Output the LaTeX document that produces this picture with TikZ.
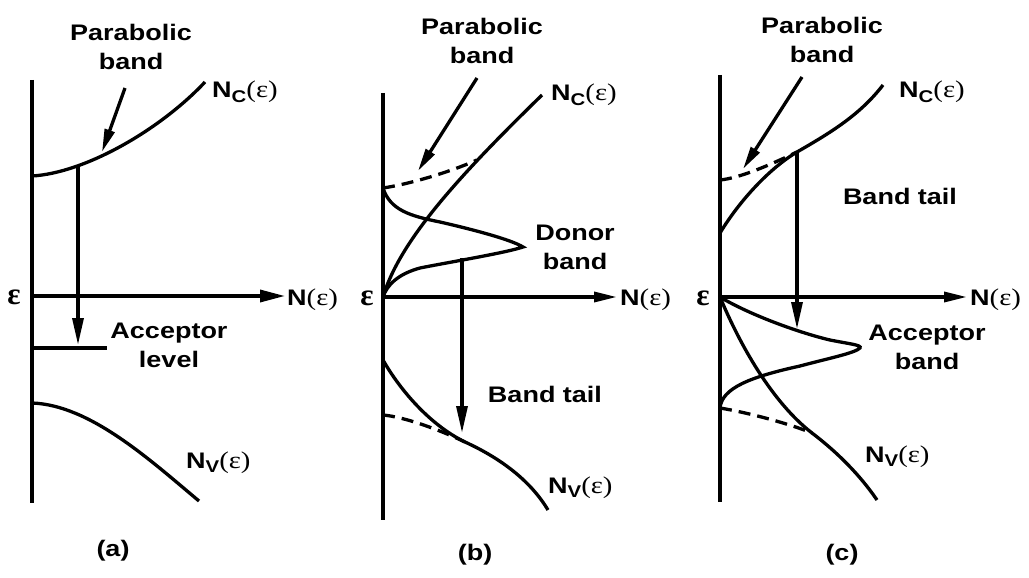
\documentclass[tikz,border=0pt]{standalone}
\usepackage{fontspec}
\setmainfont{Liberation Sans}
\newfontfamily\grk{Liberation Serif}
\usetikzlibrary{arrows.meta}
\newcommand{\wtx}[1]{\scalebox{1.2}[1]{\begin{tabular}{@{}c@{}}#1\end{tabular}}}
\newcommand{\grkp}{{\grk\mdseries\fontsize{24}{24}\selectfont(ε)}}
\newcommand{\Nsub}[1]{\scalebox{1.2}[1]{N\raisebox{-4.5pt}{\fontsize{17}{17}\selectfont #1}\grkp}}
\newcommand{\Neps}{\scalebox{1.2}[1]{N\grkp}}
\newcommand{\bigeps}{{\grk\bfseries\fontsize{31}{31}\selectfont ε}}
\tikzset{
  lbl/.style={inner sep=0pt, font=\fontsize{22.5}{29}\selectfont\bfseries},
  curve/.style={line width=3.3pt},
  dcurve/.style={line width=3.3pt, dash pattern=on 12pt off 7pt},
  axis/.style={line width=3.4pt},
  bigarr/.style={line width=3.4pt, -{Triangle[length=25pt,width=12pt]}},
  thinarr/.style={line width=3.4pt, -{Triangle[length=23pt,width=10pt]}},
  varr/.style={line width=3.3pt, -{Triangle[length=27pt,width=11pt]}},
  parr/.style={line width=3.3pt, -{Triangle[length=23pt,width=10pt]}},
}
\begin{document}
\begin{tikzpicture}[x=1pt,y=-1pt]
\fill[white] (0,0) rectangle (1029,578);
\useasboundingbox (0,0) rectangle (1029,578);

% ================= (a) =================
\coordinate (aTop) at (32,80);
\coordinate (aBot) at (32,503);
\coordinate (aO) at (32,296);
\coordinate (aX) at (285,296);
\coordinate (aC0) at (32,176);
\coordinate (aC1) at (205,82);
\coordinate (aV0) at (32,403);
\coordinate (aV1) at (199,501);
\coordinate (aArrS) at (78,167);
\coordinate (aArrE) at (78,345);
\coordinate (aLv0) at (32,348);
\coordinate (aLv1) at (107,348);
\coordinate (aPS) at (125,88);
\coordinate (aPE) at (102,152);

\draw[axis] (aTop) -- (aBot);
\draw[bigarr] (aO) -- (aX);
\draw[curve] (aC0) .. controls (85,173) and (160,130) .. (aC1);
\draw[curve] (aV0) .. controls (90,405) and (150,460) .. (aV1);
\draw[axis] (aLv0) -- (aLv1);
\draw[varr] (aArrS) -- (aArrE);
\draw[parr] (aPS) -- (aPE);

\node[lbl] (aPar) at (131,49) {\wtx{Parabolic\\band}};
\node[lbl, anchor=base west] (aNc) at (212,98) {\Nsub{C}};
\node[lbl, anchor=base west] (aNe) at (287,305) {\Neps};
\node[lbl] (aEps) at (14,297) {\bigeps};
\node[lbl] (aAcc) at (169,347) {\wtx{Acceptor\\level}};
\node[lbl, anchor=base west] (aNv) at (186,468) {\Nsub{V}};
\node[lbl] (aLab) at (113,551) {\wtx{(a)}};

% ================= (b) =================
\coordinate (bTop) at (383,93);
\coordinate (bBot) at (383,520);
\coordinate (bO) at (383,297);
\coordinate (bX) at (617,297);
\coordinate (bP0) at (383,188);
\coordinate (bM) at (477,160);
\coordinate (bC1) at (542,95);
\coordinate (bPk) at (523,247);
\coordinate (bV0) at (383,360);
\coordinate (bVm) at (465,442);
\coordinate (bV1) at (548,510);
\coordinate (bD0) at (383,415);
\coordinate (bArrS) at (462,258);
\coordinate (bArrE) at (462,433);
\coordinate (bPS) at (477,78);
\coordinate (bPE) at (418,171);

\draw[axis] (bTop) -- (bBot);
\draw[thinarr] (bO) -- (bX);
\draw[dcurve] (bP0) .. controls (410,184) and (450,172) .. (bM);
\draw[curve] (bO) .. controls (400,240) and (460,175) .. (bC1);
\draw[curve] (bP0) .. controls (390,210) and (410,216) .. (440,222)
   .. controls (475,230) and (512,240) .. (bPk)
   .. controls (505,253) and (450,262) .. (420,268)
   .. controls (398,274) and (387,285) .. (bO);
\draw[curve] (bV0) .. controls (400,390) and (430,425) .. (bVm)
   .. controls (500,458) and (530,480) .. (bV1);
\draw[dcurve] (bD0) .. controls (405,417) and (440,430) .. (bVm);
\draw[varr] (bArrS) -- (bArrE);
\draw[parr] (bPS) -- (bPE);

\node[lbl] (bPar) at (482,43) {\wtx{Parabolic\\band}};
\node[lbl, anchor=base west] (bNc) at (551,101) {\Nsub{C}};
\node[lbl, anchor=base west] (bNe) at (620,305) {\Neps};
\node[lbl] (bEps) at (367,298) {\bigeps};
\node[lbl] (bDon) at (575,249) {\wtx{Donor\\band}};
\node[lbl, anchor=base] (bTail) at (545,402) {\scalebox{1.2}[1]{Band tail}};
\node[lbl, anchor=base west] (bNv) at (548,493) {\Nsub{V}};
\node[lbl] (bLab) at (475,555) {\wtx{(b)}};

% ================= (c) =================
\coordinate (cTop) at (720,75);
\coordinate (cBot) at (720,502);
\coordinate (cO) at (720,297);
\coordinate (cX) at (967,297);
\coordinate (cC0) at (720,233);
\coordinate (cM) at (797,152);
\coordinate (cC1) at (883,85);
\coordinate (cP0) at (720,180);
\coordinate (cPk) at (860,348);
\coordinate (cG1) at (720,408);
\coordinate (cVm) at (812,433);
\coordinate (cV1) at (877,500);
\coordinate (cArrE) at (797,329);
\coordinate (cPS) at (802,77);
\coordinate (cPE) at (743,169);

\draw[axis] (cTop) -- (cBot);
\draw[thinarr] (cO) -- (cX);
\draw[curve] (cC0) .. controls (740,200) and (770,168) .. (cM)
   .. controls (830,133) and (860,115) .. (cC1);
\draw[dcurve] (cP0) .. controls (740,178) and (770,165) .. (cM);
\draw[curve] (cO) .. controls (750,315) and (800,333) .. (830,340)
   .. controls (850,344) and (862,345) .. (cPk)
   .. controls (855,353) and (830,358) .. (800,366)
   .. controls (750,377) and (722,388) .. (cG1);
\draw[curve] (cO) .. controls (740,345) and (772,402) .. (cVm)
   .. controls (837,452) and (860,475) .. (cV1);
\draw[dcurve] (cG1) .. controls (750,413) and (790,424) .. (cVm);
\draw[varr] (cM) -- (cArrE);
\draw[parr] (cPS) -- (cPE);

\node[lbl] (cPar) at (822,42) {\wtx{Parabolic\\band}};
\node[lbl, anchor=base west] (cNc) at (899,98) {\Nsub{C}};
\node[lbl, anchor=base west] (cNe) at (970,305) {\Neps};
\node[lbl] (cEps) at (703,298) {\bigeps};
\node[lbl, anchor=base] (cTail) at (900,204) {\scalebox{1.2}[1]{Band tail}};
\node[lbl] (cAcc) at (927,349) {\wtx{Acceptor\\band}};
\node[lbl, anchor=base west] (cNv) at (865,462) {\Nsub{V}};
\node[lbl] (cLab) at (842,555) {\wtx{(c)}};
\end{tikzpicture}
\end{document}
